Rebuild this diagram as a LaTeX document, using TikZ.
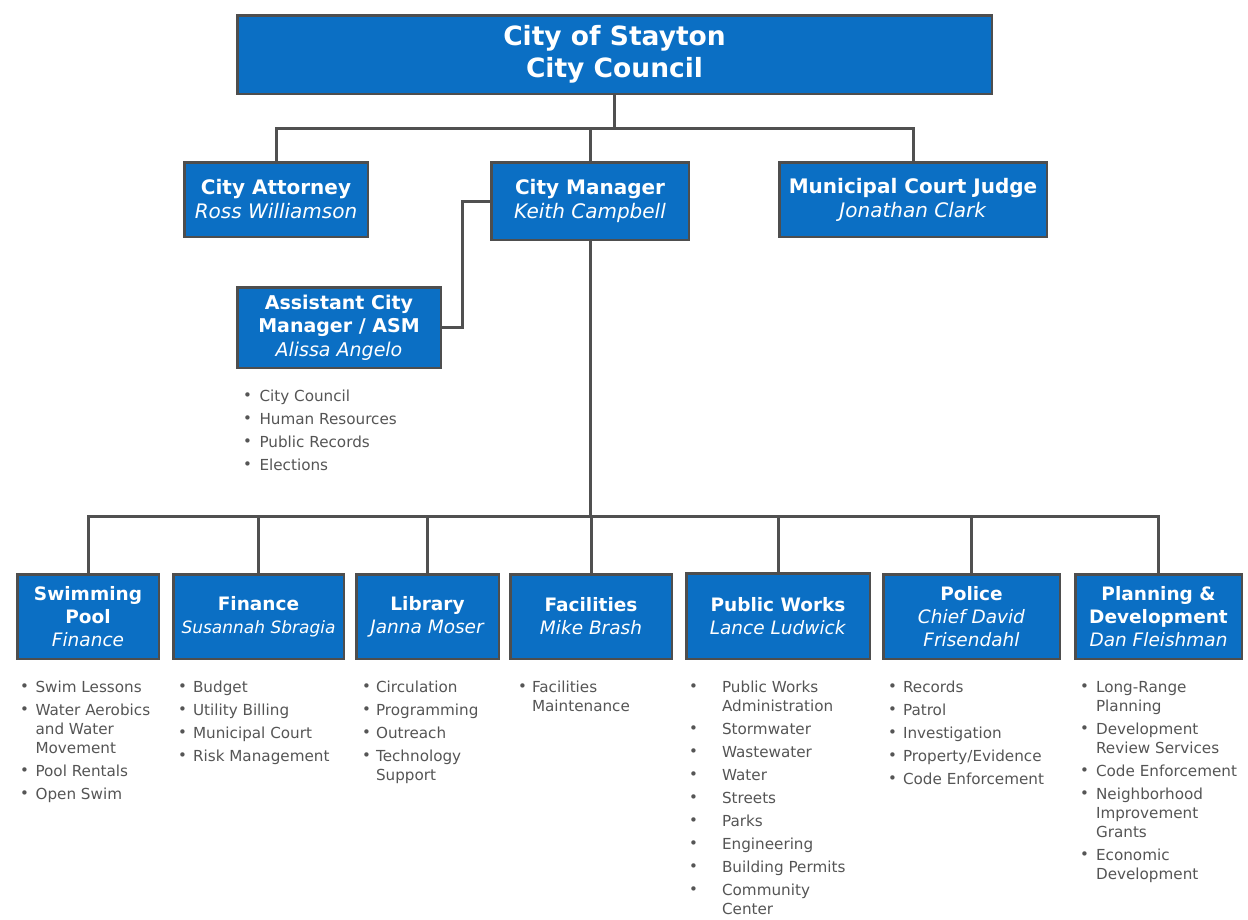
\documentclass[tikz,border=0pt]{standalone}
\usepackage{fontspec}
\setmainfont{DejaVu Sans}
\usepackage{xcolor}
\usetikzlibrary{positioning}
\usetikzlibrary{calc}

\definecolor{boxblue}{RGB}{11,111,196}
\definecolor{boxedge}{RGB}{78,78,78}
\definecolor{wiregray}{RGB}{80,80,80}
\definecolor{textgray}{RGB}{85,85,85}

\newcommand{\dotm}{{\fontsize{15}{15}\selectfont\raisebox{0.5pt}{\textbullet}}}
\newcommand{\duties}[2]{\begin{tabular}[t]{@{}l@{\hspace{#1}}l@{}}#2\end{tabular}}

\begin{document}
\begin{tikzpicture} [
    x=1pt, y=-1pt,                  % pixel grid, y grows downwards
    ]
% -------------------------------------------------
\tikzset{
  base/.style={draw=boxedge, line width=2.5pt, fill=boxblue, text=white, align=center, inner sep=0pt},
  top/.style={base, font=\fontsize{26.5}{32}\selectfont\bfseries},
  rect/.style={base, font=\fontsize{20}{24}\selectfont},
  unit/.style={base, font=\fontsize{18.5}{23}\selectfont, minimum height=84.5pt},
  list/.style={anchor=base west, inner sep=0pt, text=textgray, font=\fontsize{15.2}{19}\selectfont},
  line/.style={draw=wiregray, line width=3pt},
}
    \useasboundingbox [fill=white] (0,0) rectangle (1248,919);

    % top level
    \node [top, minimum width=754.5pt, minimum height=78.5pt] (council) at (614.5,54.5) {City of Stayton\\City Council};

    \node [rect, minimum width=183.5pt, minimum height=74.5pt] (att) at (276,199.5) {\textbf{City Attorney}\\\textit{Ross Williamson}};
    \node [rect, minimum width=197.5pt, minimum height=77.5pt] (cm) at (590,201) {\textbf{City Manager}\\\textit{Keith Campbell}};
    \node [rect, minimum width=267.5pt, minimum height=74.5pt] (judge) at (913,199.5) {\textbf{Municipal Court Judge}\\\textit{Jonathan Clark}};

    \node [rect, font=\fontsize{19}{23.5}\selectfont, minimum width=203.5pt, minimum height=80.5pt] (acm) at (339,327.5)
        {\textbf{Assistant City}\\\textbf{Manager / ASM}\\\textit{Alissa Angelo}};
    \node [list] (acmlist) at (243,401) {\duties{7.5pt}{%
        \dotm & City Council\\[4pt] \dotm & Human Resources\\[4pt] \dotm & Public Records\\[4pt] \dotm & Elections}};

    % departments
    \node [unit, minimum width=141.5pt] (pool) at (88,616.5) {\textbf{Swimming}\\\textbf{Pool}\\\textit{Finance}};
    \node [unit, minimum width=170.5pt] (fin) at (258.5,616.5) {\textbf{Finance}\\{\fontsize{17}{23}\selectfont\textit{Susannah Sbragia}}};
    \node [unit, minimum width=142.5pt] (lib) at (427.5,616.5) {\textbf{Library}\\\textit{Janna Moser}};
    \node [unit, minimum width=161.5pt] (fac) at (591,616.5) {\textbf{Facilities}\\\textit{Mike Brash}};
    \node [unit, minimum width=183.5pt, minimum height=85.5pt] (pw) at (778,616) {\textbf{Public Works}\\\textit{Lance Ludwick}};
    \node [unit, minimum width=176.5pt] (pol) at (971.5,616.5) {\textbf{Police}\\\textit{Chief David}\\\textit{Frisendahl}};
    \node [unit, minimum width=166.5pt] (plan) at (1158.5,616.5) {\textbf{Planning \&}\\\textbf{Development}\\\textit{Dan Fleishman}};

    % duties below each department
    \node [list] (poollist) at (20,692) {\duties{6.5pt}{%
        \dotm & Swim Lessons\\[4pt] \dotm & Water Aerobics\\ & and Water\\ & Movement\\[4pt] \dotm & Pool Rentals\\[4pt] \dotm & Open Swim}};
    \node [list] (finlist) at (178,692) {\duties{6pt}{%
        \dotm & Budget\\[4pt] \dotm & Utility Billing\\[4pt] \dotm & Municipal Court\\[4pt] \dotm & Risk Management}};
    \node [list] (liblist) at (362,692) {\duties{5pt}{%
        \dotm & Circulation\\[4pt] \dotm & Programming\\[4pt] \dotm & Outreach\\[4pt] \dotm & Technology\\ & Support}};
    \node [list] (faclist) at (518,692) {\duties{5pt}{%
        \dotm & Facilities\\ & Maintenance}};
    \node [list] (pwlist) at (689,692) {\duties{24pt}{%
        \dotm & Public Works\\ & Administration\\[4pt] \dotm & Stormwater\\[4pt] \dotm & Wastewater\\[4pt] \dotm & Water\\[4pt]
        \dotm & Streets\\[4pt] \dotm & Parks\\[4pt] \dotm & Engineering\\[4pt] \dotm & Building Permits\\[4pt] \dotm & Community\\ & Center}};
    \node [list] (pollist) at (888,692) {\duties{6pt}{%
        \dotm & Records\\[4pt] \dotm & Patrol\\[4pt] \dotm & Investigation\\[4pt] \dotm & Property/Evidence\\[4pt] \dotm & Code Enforcement}};
    \node [list] (planlist) at (1080,692) {\duties{7pt}{%
        \dotm & Long-Range\\ & Planning\\[4pt] \dotm & Development\\ & Review Services\\[4pt] \dotm & Code Enforcement\\[4pt]
        \dotm & Neighborhood\\ & Improvement\\ & Grants\\[4pt] \dotm & Economic\\ & Development}};

    % connectors
    \coordinate (topbus) at (614.5,128);
    \coordinate (deptbus) at (590,516);

    \path [line] (council) -- (topbus);
    \path [line] (topbus) -| (att.north);
    \path [line] (topbus) -| (cm.north);
    \path [line] (topbus) -| (judge.north);

    \path [line] (cm.west) -- ++(-28,0) |- (acm.east);
    \path [line] (cm) -- (deptbus);
    \path [line] (deptbus) -| (pool.north);
    \path [line] (deptbus) -| (plan.north);
    \foreach \d in {fin, lib, fac, pw, pol}
        \path [line] (deptbus) -| (\d.north);

\end{tikzpicture}
\end{document}
